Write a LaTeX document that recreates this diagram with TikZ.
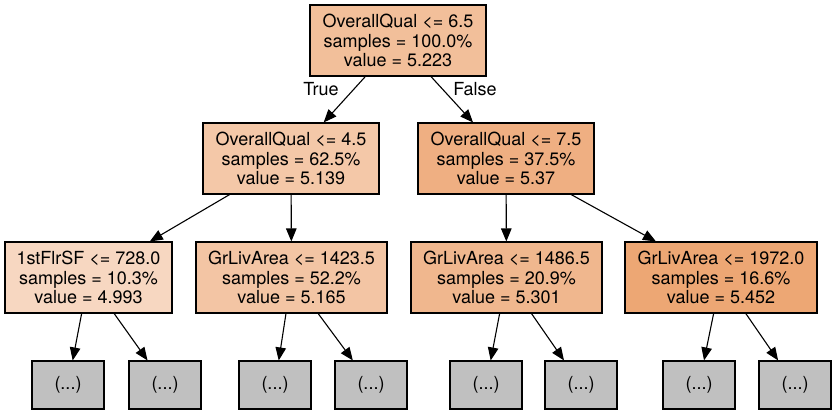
\documentclass[tikz,border=0pt]{standalone}
\usepackage{fontspec}
\setmainfont{TeX Gyre Heros}
\usetikzlibrary{arrows.meta}
\definecolor{croot}{RGB}{242,191,154}
\definecolor{cll}{RGB}{244,200,168}
\definecolor{clr}{RGB}{239,175,130}
\definecolor{cba}{RGB}{247,215,193}
\definecolor{cbb}{RGB}{243,197,164}
\definecolor{cbc}{RGB}{240,183,142}
\definecolor{cbd}{RGB}{237,167,116}
\definecolor{leafgray}{RGB}{192,192,192}
\begin{document}
\begin{tikzpicture}[x=1pt,y=-1pt,
  box/.style={draw=black, line width=1.1pt, rectangle, inner sep=0pt, align=center,
    font=\fontsize{18}{19.5}\selectfont},
  split/.style={box, minimum height=71pt},
  leaf/.style={box, fill=leafgray, minimum width=72pt, minimum height=48pt},
  edge/.style={-{Triangle[length=13pt,width=10.5pt]}, line width=1.1pt},
  elabel/.style={font=\fontsize{18}{19.5}\selectfont, inner sep=0pt}]
\useasboundingbox (0,0) rectangle (837,415);
\node[split, fill=croot, minimum width=176pt] (root) at (398,40.5) {OverallQual <= 6.5\\samples = 100.0\%\\value = 5.223};
\node[split, fill=cll, minimum width=176pt] (l1l) at (291,158.5) {OverallQual <= 4.5\\samples = 62.5\%\\value = 5.139};
\node[split, fill=clr, minimum width=176pt] (l1r) at (506,158.5) {OverallQual <= 7.5\\samples = 37.5\%\\value = 5.37};
\node[split, fill=cba, minimum width=167pt] (ba) at (88.5,277.5) {1stFlrSF <= 728.0\\samples = 10.3\%\\value = 4.993};
\node[split, fill=cbb, minimum width=191pt] (bb) at (291.5,277.5) {GrLivArea <= 1423.5\\samples = 52.2\%\\value = 5.165};
\node[split, fill=cbc, minimum width=191pt] (bc) at (506.5,277.5) {GrLivArea <= 1486.5\\samples = 20.9\%\\value = 5.301};
\node[split, fill=cbd, minimum width=192pt] (bd) at (721,277.5) {GrLivArea <= 1972.0\\samples = 16.6\%\\value = 5.452};
\node[leaf] (la1) at (68,385) {(...)};
\node[leaf] (la2) at (165,385) {(...)};
\node[leaf] (lb1) at (275,385) {(...)};
\node[leaf] (lb2) at (371,385) {(...)};
\node[leaf] (lc1) at (486,385) {(...)};
\node[leaf] (lc2) at (581,385) {(...)};
\node[leaf] (ld1) at (699,385) {(...)};
\node[leaf] (ld2) at (795,385) {(...)};
\node[elabel] (ltrue) at (321,89) {True};
\node[elabel] (lfalse) at (475,89) {False};
\draw[edge] (root) -- (l1l);
\draw[edge] (root) -- (l1r);
\draw[edge] (l1l) -- (ba);
\draw[edge] (l1l) -- (bb);
\draw[edge] (l1r) -- (bc);
\draw[edge] (l1r) -- (bd);
\draw[edge] (ba) -- (la1);
\draw[edge] (ba) -- (la2);
\draw[edge] (bb) -- (lb1);
\draw[edge] (bb) -- (lb2);
\draw[edge] (bc) -- (lc1);
\draw[edge] (bc) -- (lc2);
\draw[edge] (bd) -- (ld1);
\draw[edge] (bd) -- (ld2);
\end{tikzpicture}
\end{document}
